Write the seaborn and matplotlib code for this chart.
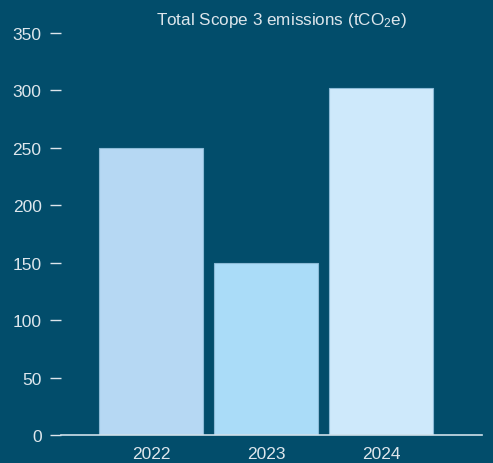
import matplotlib
matplotlib.use("Agg")
import matplotlib.pyplot as plt
import seaborn as sns
import pandas as pd

years = ["2022", "2023", "2024"]
emissions = [250, 150, 302]
bar_colors = ["#b6d8f3", "#aadcf8", "#cee9fb"]
yticks = [0, 50, 100, 150, 200, 250, 300, 350]

bg = "#024d6b"
fg = "#dde6ec"

sns.set_theme(style="white")
plt.rcParams["font.family"] = ["Liberation Sans", "DejaVu Sans"]
plt.rcParams["mathtext.fontset"] = "custom"
plt.rcParams["mathtext.rm"] = "Liberation Sans"
plt.rcParams["mathtext.it"] = "Liberation Sans"

df = pd.DataFrame({"year": years, "value": emissions})

fig = plt.figure(figsize=(4.93, 4.64), dpi=100, facecolor=bg)
W, H = 493, 464
ax = fig.add_axes([61 / W, (H - 436) / H, (482 - 61) / W, (436 - 34) / H])
ax.set_facecolor(bg)

sns.barplot(data=df, x="year", y="value", hue="year", palette=bar_colors,
            saturation=1, width=0.9, legend=False, ax=ax,
            edgecolor="#8bbad6", linewidth=0.8)

ax.set_xlim(-0.783, 2.878)
ax.set_ylim(0, 350)
ax.set_yticks(yticks)
ax.set_yticklabels([str(t) for t in yticks])
ax.set_xlabel("")
ax.set_ylabel("")

for s in ["top", "right", "left"]:
    ax.spines[s].set_visible(False)
ax.spines["bottom"].set_color("#cfe0ea")
ax.spines["bottom"].set_linewidth(1.2)

ax.tick_params(axis="y", colors=fg, labelsize=12.5, length=8, width=1.0,
               direction="out", pad=6, left=True)
ax.tick_params(axis="x", colors=fg, labelsize=12.5, length=0, pad=8)

fig.text(281 / W, 1 - 20 / H, "Total Scope 3 emissions (tCO$_2$e)",
         color=fg, fontsize=12.3, ha="center", va="center")

fig.savefig("out.png", dpi=100, facecolor=bg)
